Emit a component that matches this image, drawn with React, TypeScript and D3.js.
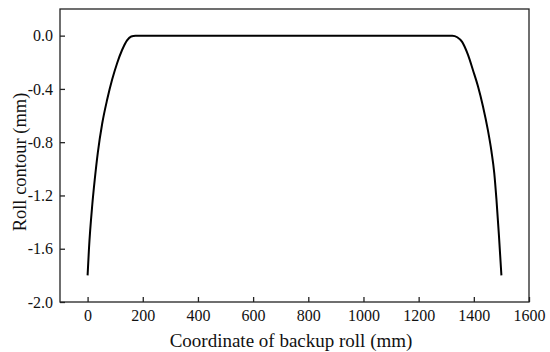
import React, { useEffect, useRef } from 'react';
import * as d3 from 'd3';

// backup roll contour
const contourX = [0, 5, 17, 26, 37, 53, 71, 89, 107, 125, 143, 158, 174, 600, 1000, 1322, 1340, 1357, 1379, 1397, 1415, 1433, 1451, 1464, 1474, 1482, 1491, 1500];
const contourY = [-1.8, -1.6, -1.27, -1.08, -0.88, -0.66, -0.48, -0.33, -0.207, -0.108, -0.035, -0.006, 0, 0, 0, 0, -0.012, -0.045, -0.145, -0.26, -0.38, -0.53, -0.71, -0.87, -1.03, -1.23, -1.5, -1.8];

const xTicks = [0, 200, 400, 600, 800, 1000, 1200, 1400, 1600];
const yTicks = [0.0, -0.4, -0.8, -1.2, -1.6, -2.0];

const xTitle = 'Coordinate of backup roll (mm)';
const yTitle = 'Roll contour (mm)';

const W = 550;
const H = 352;
const left = 60, right = 529, top = 9, bottom = 302;
const font = '"Liberation Serif", "Times New Roman", serif';

const App = () => {
    const ref = useRef<SVGSVGElement>(null);

    useEffect(() => {
        const svg = d3.select(ref.current);
        svg.selectAll('*').remove();

        const x = d3.scaleLinear().domain([-100, 1600]).range([left, right]);
        const y = d3.scaleLinear().domain([-2.0, 0.2]).range([bottom, top]);

        // x axis, ticks point inward
        svg.append('g')
            .attr('transform', `translate(0,${bottom})`)
            .call(d3.axisBottom(x).tickValues(xTicks).tickSizeInner(-5).tickSizeOuter(0).tickPadding(8).tickFormat(d3.format('d')))
            .call(g => g.select('.domain').remove())
            .call(g => g.selectAll('line').attr('stroke', '#222').attr('stroke-width', 1.3))
            .call(g => g.selectAll('text').attr('font-family', font).attr('font-size', 16).attr('fill', '#111'));

        svg.append('g')
            .attr('transform', `translate(${left},0)`)
            .call(d3.axisLeft(y).tickValues(yTicks).tickSizeInner(-5).tickSizeOuter(0).tickPadding(7)
                .tickFormat(d => d3.format('.1f')(d as number).replace('\u2212', '-')))
            .call(g => g.select('.domain').remove())
            .call(g => g.selectAll('line').attr('stroke', '#222').attr('stroke-width', 1.3))
            .call(g => g.selectAll('text').attr('font-family', font).attr('font-size', 16).attr('fill', '#111'));

        // frame
        svg.append('rect')
            .attr('x', left)
            .attr('y', top)
            .attr('width', right - left)
            .attr('height', bottom - top)
            .attr('fill', 'none')
            .attr('stroke', '#222')
            .attr('stroke-width', 1.3);

        const pts = contourX.map((d, i) => [d, contourY[i]] as [number, number]);
        const line = d3.line<[number, number]>()
            .x(d => x(d[0]))
            .y(d => y(d[1]))
            .curve(d3.curveMonotoneX);

        svg.append('path')
            .attr('d', line(pts))
            .attr('fill', 'none')
            .attr('stroke', '#000')
            .attr('stroke-width', 2);

        svg.append('text')
            .attr('x', 291)
            .attr('y', 347)
            .attr('text-anchor', 'middle')
            .attr('font-family', font)
            .attr('font-size', 19)
            .attr('fill', '#111')
            .text(xTitle);

        svg.append('text')
            .attr('transform', `translate(26,162) rotate(-90)`)
            .attr('text-anchor', 'middle')
            .attr('font-family', font)
            .attr('font-size', 18.5)
            .attr('fill', '#111')
            .text(yTitle);
    }, []);

    return (
        <svg ref={ref} width={W} height={H} style={{ position: 'absolute', left: 0, top: 0, background: '#fff' }} />
    );
};

export default App;
